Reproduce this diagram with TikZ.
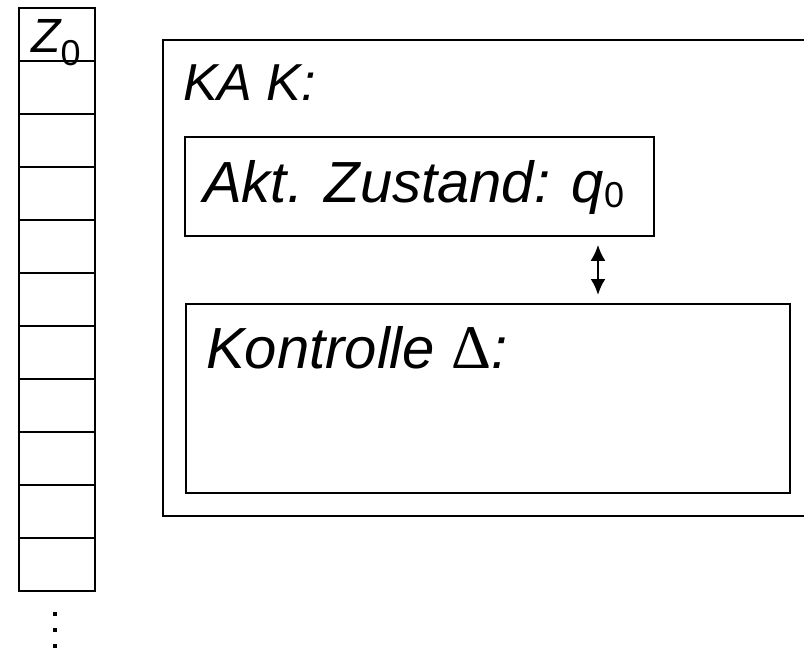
\documentclass[tikz,border=0pt]{standalone}
\usepackage{fontspec}
\setmainfont{Liberation Sans}
\newfontfamily\symbfont{Liberation Serif}
\usetikzlibrary{arrows.meta}

\tikzset{
  box/.style={draw, line width=1.8pt, anchor=north west, inner sep=0pt},
  txt/.style={font=\fontsize{58}{64}\selectfont\itshape, anchor=base west, inner sep=0pt},
  tip/.tip={Latex[length=16pt,width=15pt]},
}
% lowered upright index
\newcommand{\idx}[2][5pt]{\raisebox{-#1}{\upshape\fontsize{36}{36}\selectfont #2}}

\begin{document}
\begin{tikzpicture}[x=1pt,y=-1pt]
  \useasboundingbox (0,0) rectangle (804,648);
  \clip (0,0) rectangle (804,648);
  % tape
  \foreach \i in {0,...,10}
    \node[box, minimum width=76pt, minimum height=53pt] (cell\i) at (18,{7+53*\i}) {};
  \node[font=\fontsize{48}{54}\selectfont\itshape, anchor=base, inner sep=0pt] (z0) at (56,52) {Z\idx[13pt]{0}};
  \foreach \k in {0,1,2}
    \fill (53.25,{612.25+16*\k}) rectangle ++(3.5,3.5);
  % automaton
  \node[box, minimum width=668pt, minimum height=476pt] (ka) at (162,39) {};
  \node[txt, font=\fontsize{52}{60}\selectfont\itshape] (kaname) at (183,100) {KA K:};
  \node[box, minimum width=469pt, minimum height=99pt] (akt) at (184,136) {};
  \node[txt] (zust) at (203,202) {Akt. Zustand: q\idx{0}};
  \node[box, minimum width=604pt, minimum height=189pt] (kontr) at (185,303) {};
  \node[txt] (delta) at (206,368) {Kontrolle {\symbfont\upshape\fontsize{62}{66}\selectfont Δ}:};
  \coordinate (ax) at (598,0);
  \draw[line width=2.5pt, tip-tip, shorten <=8pt, shorten >=8pt] (akt.south -| ax) -- (kontr.north -| ax);
\end{tikzpicture}
\end{document}
